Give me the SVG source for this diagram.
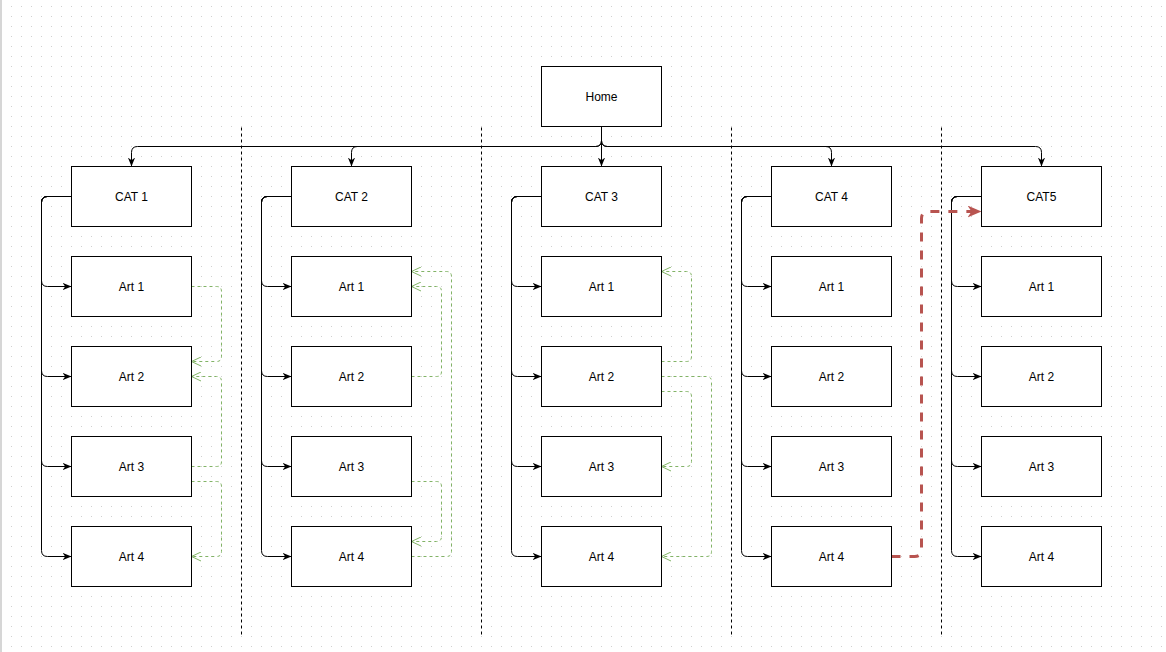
<svg xmlns="http://www.w3.org/2000/svg" width="1166" height="652" viewBox="0 0 1166 652">
<defs>
<pattern id="grid" patternUnits="userSpaceOnUse" x="11" y="6" width="10" height="10"><rect x="0" y="0" width="1" height="1" fill="#d0d0d0"/></pattern>
<marker id="blk" viewBox="0 0 10 10" refX="10" refY="5" markerWidth="9" markerHeight="9" orient="auto" markerUnits="userSpaceOnUse"><path d="M0,1 L10,5 L0,9 L3,5 Z" fill="#000"/></marker>
<marker id="grn" viewBox="0 0 10 10" refX="9.5" refY="5" markerWidth="10" markerHeight="10" orient="auto" markerUnits="userSpaceOnUse"><path d="M0,0.5 L9.5,5 L0,9.5" fill="none" stroke="#82b366" stroke-width="1"/></marker>
<marker id="red" viewBox="0 0 14 12" refX="14" refY="6" markerWidth="14" markerHeight="12" orient="auto" markerUnits="userSpaceOnUse"><path d="M0,0 L14,6 L0,12 L4,6 Z" fill="#b85450"/></marker>
</defs>
<style>
.box{fill:#fff;stroke:#000;stroke-width:1}
.lbl{font-family:"Liberation Sans",Arial,sans-serif;font-size:12px;fill:#000;text-anchor:middle}
.sep{stroke:#000;stroke-width:1;stroke-dasharray:3 3;fill:none}
.c{fill:none;stroke:#000;stroke-width:1;marker-end:url(#blk)}
.g{fill:none;stroke:#82b366;stroke-width:1;stroke-dasharray:3 3;marker-end:url(#grn)}
.r{fill:none;stroke:#b85450;stroke-width:3;stroke-dasharray:9 9;marker-end:url(#red)}
</style>
<rect width="1166" height="652" fill="#fff"/>
<rect width="1166" height="652" fill="url(#grid)"/>
<rect x="0" y="0" width="2" height="652" fill="#d6d6d6"/>
<g transform="translate(0.5,0.5)">
<g id="separators">
<line class="sep" x1="241" y1="127" x2="241" y2="636"/>
<line class="sep" x1="481" y1="127" x2="481" y2="636"/>
<line class="sep" x1="731" y1="127" x2="731" y2="636"/>
<line class="sep" x1="941" y1="127" x2="941" y2="636"/>
</g>
<g id="connectors">
<path class="c" d="M601,126 V140 Q601,146 595,146 H137 Q131,146 131,152 V166"/>
<path class="c" d="M601,126 V140 Q601,146 595,146 H357 Q351,146 351,152 V166"/>
<path class="c" d="M601,126 V166"/>
<path class="c" d="M601,126 V140 Q601,146 607,146 H825 Q831,146 831,152 V166"/>
<path class="c" d="M601,126 V140 Q601,146 607,146 H1035 Q1041,146 1041,152 V166"/>
<path class="c" d="M71,196 H47 Q41,196 41,202 V280 Q41,286 47,286 H71"/>
<path class="c" d="M71,196 H47 Q41,196 41,202 V370 Q41,376 47,376 H71"/>
<path class="c" d="M71,196 H47 Q41,196 41,202 V460 Q41,466 47,466 H71"/>
<path class="c" d="M71,196 H47 Q41,196 41,202 V550 Q41,556 47,556 H71"/>
<path class="c" d="M291,196 H267 Q261,196 261,202 V280 Q261,286 267,286 H291"/>
<path class="c" d="M291,196 H267 Q261,196 261,202 V370 Q261,376 267,376 H291"/>
<path class="c" d="M291,196 H267 Q261,196 261,202 V460 Q261,466 267,466 H291"/>
<path class="c" d="M291,196 H267 Q261,196 261,202 V550 Q261,556 267,556 H291"/>
<path class="c" d="M541,196 H517 Q511,196 511,202 V280 Q511,286 517,286 H541"/>
<path class="c" d="M541,196 H517 Q511,196 511,202 V370 Q511,376 517,376 H541"/>
<path class="c" d="M541,196 H517 Q511,196 511,202 V460 Q511,466 517,466 H541"/>
<path class="c" d="M541,196 H517 Q511,196 511,202 V550 Q511,556 517,556 H541"/>
<path class="c" d="M771,196 H747 Q741,196 741,202 V280 Q741,286 747,286 H771"/>
<path class="c" d="M771,196 H747 Q741,196 741,202 V370 Q741,376 747,376 H771"/>
<path class="c" d="M771,196 H747 Q741,196 741,202 V460 Q741,466 747,466 H771"/>
<path class="c" d="M771,196 H747 Q741,196 741,202 V550 Q741,556 747,556 H771"/>
<path class="c" d="M981,196 H957 Q951,196 951,202 V280 Q951,286 957,286 H981"/>
<path class="c" d="M981,196 H957 Q951,196 951,202 V370 Q951,376 957,376 H981"/>
<path class="c" d="M981,196 H957 Q951,196 951,202 V460 Q951,466 957,466 H981"/>
<path class="c" d="M981,196 H957 Q951,196 951,202 V550 Q951,556 957,556 H981"/>
<path class="g" d="M191,286 H216 Q221,286 221,291 V356 Q221,361 216,361 H191"/>
<path class="g" d="M191,466 H216 Q221,466 221,461 V381 Q221,376 216,376 H191"/>
<path class="g" d="M191,481 H216 Q221,481 221,486 V551 Q221,556 216,556 H191"/>
<path class="g" d="M411,556 H446 Q451,556 451,551 V276 Q451,271 446,271 H411"/>
<path class="g" d="M411,376 H436 Q441,376 441,371 V291 Q441,286 436,286 H411"/>
<path class="g" d="M411,481 H436 Q441,481 441,486 V536 Q441,541 436,541 H411"/>
<path class="g" d="M661,361 H686 Q691,361 691,356 V276 Q691,271 686,271 H661"/>
<path class="g" d="M661,376 H706 Q711,376 711,381 V551 Q711,556 706,556 H661"/>
<path class="g" d="M661,391 H686 Q691,391 691,396 V461 Q691,466 686,466 H661"/>
<path class="r" d="M891,556 H914 Q921,556 921,549 V218 Q921,211 928,211 H981"/>
</g>
<g id="home"><rect class="box" x="541" y="66" width="120" height="60"/><text class="lbl" x="601" y="100">Home</text></g>
<g id="cat1"><rect class="box" x="71" y="166" width="120" height="60"/><text class="lbl" x="131" y="200">CAT 1</text></g>
<g id="cat1-art1"><rect class="box" x="71" y="256" width="120" height="60"/><text class="lbl" x="131" y="290">Art 1</text></g>
<g id="cat1-art2"><rect class="box" x="71" y="346" width="120" height="60"/><text class="lbl" x="131" y="380">Art 2</text></g>
<g id="cat1-art3"><rect class="box" x="71" y="436" width="120" height="60"/><text class="lbl" x="131" y="470">Art 3</text></g>
<g id="cat1-art4"><rect class="box" x="71" y="526" width="120" height="60"/><text class="lbl" x="131" y="560">Art 4</text></g>
<g id="cat2"><rect class="box" x="291" y="166" width="120" height="60"/><text class="lbl" x="351" y="200">CAT 2</text></g>
<g id="cat2-art1"><rect class="box" x="291" y="256" width="120" height="60"/><text class="lbl" x="351" y="290">Art 1</text></g>
<g id="cat2-art2"><rect class="box" x="291" y="346" width="120" height="60"/><text class="lbl" x="351" y="380">Art 2</text></g>
<g id="cat2-art3"><rect class="box" x="291" y="436" width="120" height="60"/><text class="lbl" x="351" y="470">Art 3</text></g>
<g id="cat2-art4"><rect class="box" x="291" y="526" width="120" height="60"/><text class="lbl" x="351" y="560">Art 4</text></g>
<g id="cat3"><rect class="box" x="541" y="166" width="120" height="60"/><text class="lbl" x="601" y="200">CAT 3</text></g>
<g id="cat3-art1"><rect class="box" x="541" y="256" width="120" height="60"/><text class="lbl" x="601" y="290">Art 1</text></g>
<g id="cat3-art2"><rect class="box" x="541" y="346" width="120" height="60"/><text class="lbl" x="601" y="380">Art 2</text></g>
<g id="cat3-art3"><rect class="box" x="541" y="436" width="120" height="60"/><text class="lbl" x="601" y="470">Art 3</text></g>
<g id="cat3-art4"><rect class="box" x="541" y="526" width="120" height="60"/><text class="lbl" x="601" y="560">Art 4</text></g>
<g id="cat4"><rect class="box" x="771" y="166" width="120" height="60"/><text class="lbl" x="831" y="200">CAT 4</text></g>
<g id="cat4-art1"><rect class="box" x="771" y="256" width="120" height="60"/><text class="lbl" x="831" y="290">Art 1</text></g>
<g id="cat4-art2"><rect class="box" x="771" y="346" width="120" height="60"/><text class="lbl" x="831" y="380">Art 2</text></g>
<g id="cat4-art3"><rect class="box" x="771" y="436" width="120" height="60"/><text class="lbl" x="831" y="470">Art 3</text></g>
<g id="cat4-art4"><rect class="box" x="771" y="526" width="120" height="60"/><text class="lbl" x="831" y="560">Art 4</text></g>
<g id="cat5"><rect class="box" x="981" y="166" width="120" height="60"/><text class="lbl" x="1041" y="200">CAT5</text></g>
<g id="cat5-art1"><rect class="box" x="981" y="256" width="120" height="60"/><text class="lbl" x="1041" y="290">Art 1</text></g>
<g id="cat5-art2"><rect class="box" x="981" y="346" width="120" height="60"/><text class="lbl" x="1041" y="380">Art 2</text></g>
<g id="cat5-art3"><rect class="box" x="981" y="436" width="120" height="60"/><text class="lbl" x="1041" y="470">Art 3</text></g>
<g id="cat5-art4"><rect class="box" x="981" y="526" width="120" height="60"/><text class="lbl" x="1041" y="560">Art 4</text></g>
</g>
</svg>
